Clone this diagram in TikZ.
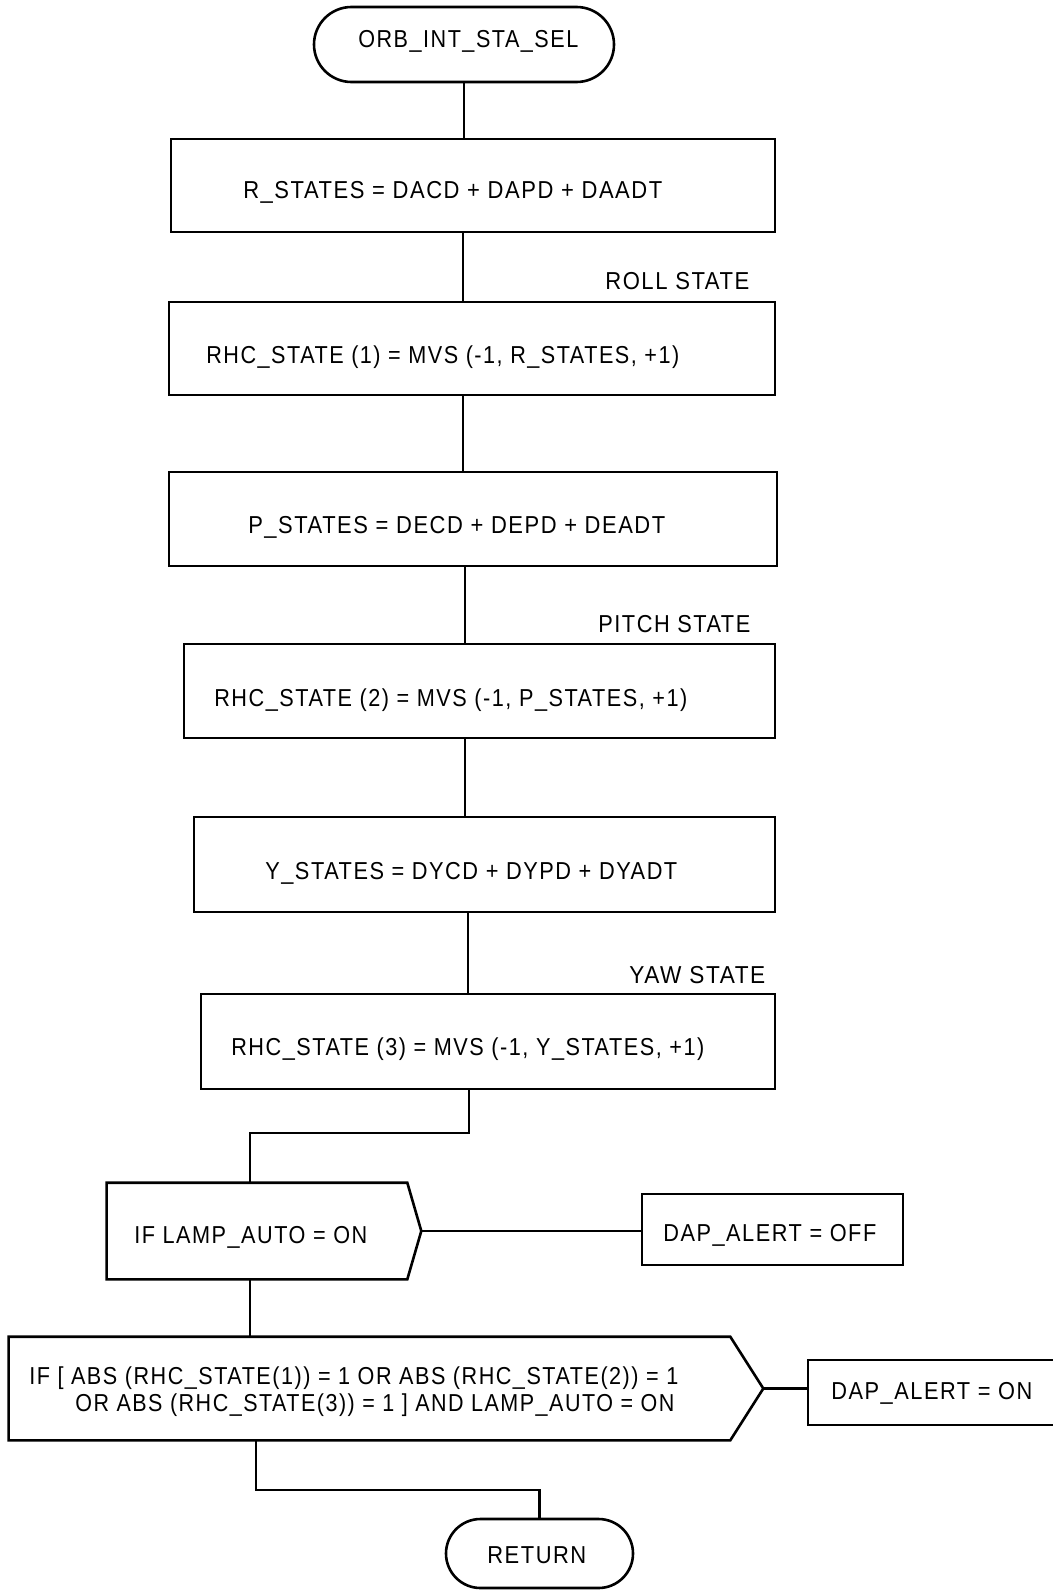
\documentclass[tikz,border=0pt]{standalone}
\usepackage{fontspec}
\setmainfont[LetterSpace=7]{Liberation Sans}
\usepackage{graphicx}
\usetikzlibrary{shapes.misc,calc}
\newcommand{\fitto}[2]{\resizebox{#1bp}{\height}{#2}}
\begin{document}
\begin{tikzpicture}[x=1bp,y=-1bp,line width=2.6bp,
  box/.style={draw,rectangle,inner sep=0pt},
  term/.style={draw,rounded rectangle,inner sep=0pt},
  shell/.style={inner sep=0pt},
  lbl/.style={anchor=base west,inner sep=0pt,font=\fontsize{24.5bp}{28bp}\selectfont}]
\useasboundingbox (0,0) rectangle (1052,1592);
\fill[white] (0,0) rectangle (1052,1592);

% shapes
\node[term,minimum width=300bp,minimum height=75bp] (start) at (464,44.5) {};
\node[box,minimum width=604bp,minimum height=93bp] (b1) at (473,185.5) {};
\node[box,minimum width=606bp,minimum height=93bp] (b2) at (472,348.5) {};
\node[box,minimum width=608bp,minimum height=94bp] (b3) at (473,519) {};
\node[box,minimum width=591bp,minimum height=94bp] (b4) at (479.5,691) {};
\node[box,minimum width=581bp,minimum height=95bp] (b5) at (484.5,864.5) {};
\node[box,minimum width=574bp,minimum height=95bp] (b6) at (488,1041.5) {};
\node[shell,minimum width=298bp,minimum height=94bp] (d1) at (257,1231) {};
\draw (d1.north west) -- (d1.north east) -- ($(d1.east)+(14,0)$) coordinate (d1tip)
  -- (d1.south east) -- (d1.south west) -- cycle;
\node[box,minimum width=261bp,minimum height=71bp] (off) at (772.5,1229.5) {};
\node[shell,minimum width=719bp,minimum height=101bp] (d2) at (369.5,1388.5) {};
\draw (d2.north west) -- (d2.north east) -- ($(d2.east)+(33,0)$) coordinate (d2tip)
  -- (d2.south east) -- (d2.south west) -- cycle;
\node[box,minimum width=252bp,minimum height=65bp] (on) at (934,1392.5) {};
\node[term,minimum width=187bp,minimum height=69bp] (ret) at (539.5,1553.5) {};

% connectors
\draw (start.south) -- (start.south |- b1.north);
\draw (b1.south -| 463,0) -- (b2.north -| 463,0);
\draw (b2.south -| 463,0) -- (b3.north -| 463,0);
\draw (b3.south -| 465,0) -- (b4.north -| 465,0);
\draw (b4.south -| 465,0) -- (b5.north -| 465,0);
\draw (b5.south -| 468,0) -- (b6.north -| 468,0);
\draw (b6.south -| 469,0) |- (250,1133) -- (d1.north -| 250,0);
\draw (d1tip) -- (d1tip -| off.west);
\draw (d1.south -| 250,0) -- (d2.north -| 250,0);
\draw (d2tip) -- (d2tip -| on.west);
\draw (d2.south -| 256,0) |- (ret.north |- 0,1490) -- (ret.north);

% texts
\node[lbl] (t0) at (357,47.7) {\fitto{220}{ORB\_INT\_STA\_SEL}};
\node[lbl] (t1) at (242,198.6) {\fitto{419}{R\_STATES = DACD + DAPD + DAADT}};
\node[lbl] (t2) at (604,289.6) {\fitto{144}{ROLL STATE}};
\node[lbl] (t3) at (205,363.6) {\fitto{473}{RHC\_STATE (1) = MVS (-1, R\_STATES, +1)}};
\node[lbl] (t4) at (247,533.6) {\fitto{417}{P\_STATES = DECD + DEPD + DEADT}};
\node[lbl] (t5) at (597,632.6) {\fitto{152}{PITCH STATE}};
\node[lbl] (t6) at (213,706.6) {\fitto{473}{RHC\_STATE (2) = MVS (-1, P\_STATES, +1)}};
\node[lbl] (t7) at (264,879.6) {\fitto{412}{Y\_STATES = DYCD + DYPD + DYADT}};
\node[lbl] (t8) at (628,983.6) {\fitto{136}{YAW STATE}};
\node[lbl] (t9) at (230,1055.6) {\fitto{473}{RHC\_STATE (3) = MVS (-1, Y\_STATES, +1)}};
\node[lbl] (t10) at (133,1243.6) {\fitto{233}{IF LAMP\_AUTO = ON}};
\node[lbl] (t11) at (662,1241.6) {\fitto{213}{DAP\_ALERT = OFF}};
\node[lbl] (t12) at (28,1384.6) {\fitto{649}{IF [ ABS (RHC\_STATE(1)) = 1 OR ABS (RHC\_STATE(2)) = 1}};
\node[lbl] (t13) at (74,1411.6) {\fitto{599}{OR ABS (RHC\_STATE(3)) = 1 ] AND LAMP\_AUTO = ON}};
\node[lbl] (t14) at (830,1399.6) {\fitto{201}{DAP\_ALERT = ON}};
\node[lbl] (t15) at (486,1563.6) {\fitto{99}{RETURN}};
\end{tikzpicture}
\end{document}
